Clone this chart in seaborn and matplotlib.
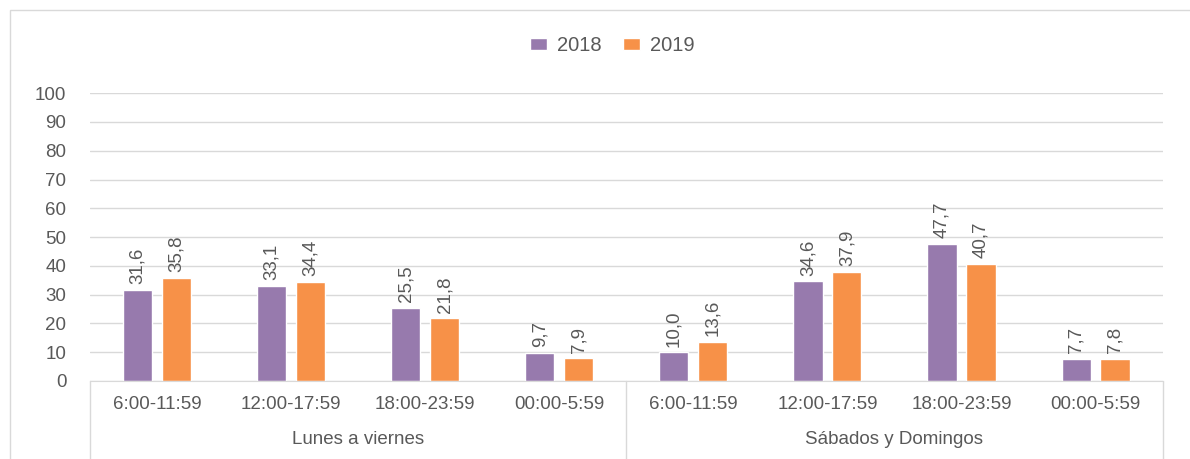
import pandas as pd
import matplotlib.pyplot as plt
import seaborn as sns
from matplotlib.patches import Rectangle

# data
periods = ['Lunes a viernes', 'Sábados y Domingos']
franjas = ['6:00-11:59', '12:00-17:59', '18:00-23:59', '00:00-5:59']
years = ['2018', '2019']
vals_2018 = [31.6, 33.1, 25.5, 9.7, 10.0, 34.6, 47.7, 7.7]
vals_2019 = [35.8, 34.4, 21.8, 7.9, 13.6, 37.9, 40.7, 7.8]

colors = {'2018': '#977AAD', '2019': '#F79148'}
txt = '#595959'

keys = [f'{p}|{f}' for p in periods for f in franjas]
df = pd.DataFrame({
    'key': keys * 2,
    'year': ['2018'] * 8 + ['2019'] * 8,
    'value': vals_2018 + vals_2019,
})

sns.set_style('white')
plt.rcParams['font.family'] = ['Liberation Sans', 'DejaVu Sans']

fig = plt.figure(figsize=(11.9, 4.59), dpi=100)
ax = fig.add_axes([0.0756, 0.170, 0.9014, 0.627])

sns.barplot(data=df, x='key', y='value', hue='year', order=keys,
            hue_order=years, palette=colors, width=0.58, gap=0.25,
            saturation=1, ax=ax, legend=True)

for cont in ax.containers:
    labs = [f'{b.get_height():.1f}'.replace('.', ',') for b in cont]
    ax.bar_label(cont, labels=labs, rotation=90, padding=4,
                 fontsize=13.5, color=txt)

ax.set_ylim(0, 100)
ax.set_xlim(-0.5, 7.5)
ax.set_yticks(range(0, 101, 10))
ax.yaxis.grid(True, color='#D9D9D9', linewidth=1)
ax.set_axisbelow(True)
for s in ['top', 'right', 'left']:
    ax.spines[s].set_visible(False)
ax.spines['bottom'].set_color('#D9D9D9')
ax.tick_params(axis='y', length=0, labelsize=13.5, labelcolor=txt, pad=17)
ax.tick_params(axis='x', length=0, labelsize=13.5, labelcolor=txt, pad=11)
ax.set_xticks(range(8))
ax.set_xticklabels(franjas * 2)
ax.set_xlabel('')
ax.set_ylabel('')

# group labels and separators under the axis
for i, p in enumerate(periods):
    ax.text(i * 4 + 1.5, -0.205, p, transform=ax.get_xaxis_transform(),
            ha='center', va='center', fontsize=13.5, color=txt)
for xv in [-0.5, 3.5, 7.5]:
    ax.plot([xv, xv], [0, -0.27], transform=ax.get_xaxis_transform(),
            color='#D9D9D9', linewidth=1, clip_on=False)

leg = ax.legend(loc='center', bbox_to_anchor=(0.487, 1.165), ncol=2,
                frameon=False, fontsize=14.5, handlelength=0.8,
                handleheight=0.6, columnspacing=1.1, handletextpad=0.5)
for t in leg.get_texts():
    t.set_color(txt)

# outer frame
fig.patches.append(Rectangle((10 / 1190, -0.01), 1.2, 1 - 10 / 459 + 0.01,
                             transform=fig.transFigure, fill=False,
                             edgecolor='#D9D9D9', linewidth=1))

fig.savefig('out.png', dpi=100)
